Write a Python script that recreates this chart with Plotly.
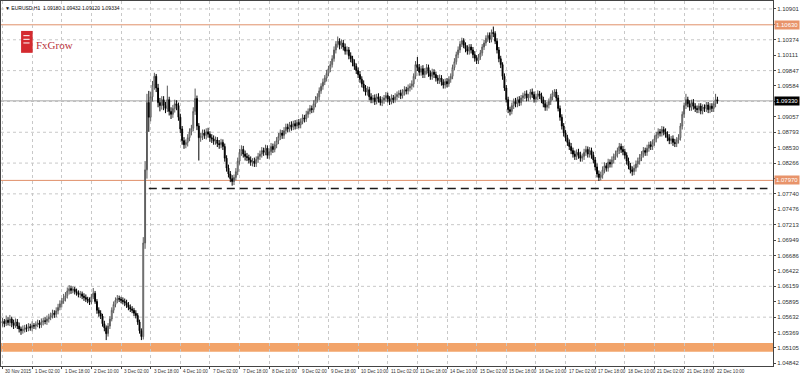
import plotly.graph_objects as go

# ---- data (prices in pips above 1.0000, EURUSD H1) ----
close_pips = [
    556,552,558,554,560,553,549,555,
    548,543,540,542,545,
    544,547,545,549,548,
    551,553,550,555,557,556,560,
    563,566,570,568,574,
    580,586,591,596,600,
    608,612,609,611,
    607,605,602,603,599,597,594,592,589,
    598,604,590,575,570,565,
    552,545,535,548,560,
    575,585,592,595,594,592,590,588,
    584,580,577,575,570,566,
    555,540,530,
    690,815,930,905,
    940,960,975,955,930,925,935,
    925,920,935,915,910,920,928,925,
    905,885,865,858,862,
    870,880,886,915,937,890,870,
    872,878,874,880,876,870,868,
    864,866,860,858,862,855,
    835,818,808,800,795,802,812,
    830,845,850,842,838,
    836,832,828,830,826,833,838,
    842,848,845,852,840,846,855,850,858,
    865,872,878,874,882,888,
    885,892,888,894,890,896,892,
    898,904,902,910,915,920,918,928,935,940,
    950,958,965,972,980,988,995,1005,
    1020,1030,1035,1028,1032,
    1025,1018,1020,1010,1005,998,992,985,
    978,970,962,955,948,952,940,935,
    938,932,940,936,930,934,938,942,936,932,938,935,940,944,
    946,942,948,952,950,955,958,962,
    975,995,990,
    982,988,978,984,990,980,975,982,978,972,
    968,972,965,960,966,962,970,975,
    990,1000,1012,1020,1030,1036,
    1028,1022,1018,1025,1020,
    1012,1006,1002,1008,1015,
    1025,1032,1040,1045,1038,1050,1048,
    1035,1020,1005,995,975,955,935,918,915,
    925,932,928,935,930,938,
    942,945,938,940,948,944,936,940,945,942,
    935,928,922,926,932,940,946,948,938,
    920,905,890,878,870,862,
    855,848,842,838,845,840,835,838,845,850,842,848,840,832,
    820,808,802,806,
    815,822,818,828,825,832,838,842,848,855,850,846,840,
    830,822,815,812,818,825,830,
    836,842,848,845,852,858,855,862,
    868,875,880,878,884,880,876,
    870,865,868,862,860,866,870,
    890,910,925,935,928,922,930,924,920,
    918,924,916,922,920,926,918,924,920,928,935,933,
]
open_pips = [
    553,556,552,558,554,560,553,549,
    555,548,543,540,542,
    545,544,547,545,549,
    548,551,553,550,555,557,556,
    560,563,566,570,568,
    574,580,586,591,596,
    600,608,612,609,
    611,607,605,602,603,599,597,594,592,
    589,598,604,590,575,570,
    565,552,545,535,548,
    560,575,585,592,595,594,592,590,
    588,584,580,577,575,570,
    566,555,540,
    530,690,815,930,
    905,940,960,975,955,930,925,
    935,925,920,935,915,910,920,928,
    925,905,885,865,858,
    862,870,880,886,915,937,890,
    870,872,878,874,880,876,870,
    868,864,866,860,858,862,
    855,835,818,808,800,795,802,
    812,830,845,850,842,
    838,836,832,828,830,826,833,
    838,842,848,845,852,840,846,855,850,
    858,865,872,878,874,882,
    888,885,892,888,894,890,896,
    892,898,904,902,910,915,920,918,928,935,
    940,950,958,965,972,980,988,995,
    1005,1020,1030,1035,1028,
    1032,1025,1018,1020,1010,1005,998,992,
    985,978,970,962,955,948,952,940,
    935,938,932,940,936,930,934,938,942,936,932,938,935,940,
    944,946,942,948,952,950,955,958,
    962,975,995,
    990,982,988,978,984,990,980,975,982,978,
    972,968,972,965,960,966,962,970,
    975,990,1000,1012,1020,1030,
    1036,1028,1022,1018,1025,
    1020,1012,1006,1002,1008,
    1015,1025,1032,1040,1045,1038,1050,
    1048,1035,1020,1005,995,975,955,935,918,
    915,925,932,928,935,930,
    938,942,945,938,940,948,944,936,940,945,
    942,935,928,922,926,932,940,946,948,
    938,920,905,890,878,870,
    862,855,848,842,838,845,840,835,838,845,850,842,848,840,
    832,820,808,802,
    806,815,822,818,828,825,832,838,842,848,855,850,846,
    840,830,822,815,812,818,825,
    830,836,842,848,845,852,858,855,
    862,868,875,880,878,884,880,
    876,870,865,868,862,860,866,
    870,890,910,925,935,928,922,930,924,
    920,918,924,916,922,920,926,918,924,920,928,935,
]
high_pips = [
    562,560,566,563,567,564,559,561,
    560,554,547,549,550,
    551,553,552,556,553,
    556,559,558,561,562,563,566,
    569,571,576,575,580,
    586,592,596,603,606,
    614,618,617,616,
    615,612,609,608,607,604,602,598,597,
    603,613,608,594,580,575,
    569,557,549,553,565,
    580,590,597,601,600,598,597,595,
    593,589,585,582,579,575,
    570,559,544,
    700,830,945,950,
    948,967,981,979,962,938,941,
    941,931,959,940,922,926,935,934,
    930,911,890,871,867,
    876,886,892,922,954,942,895,
    878,884,884,886,887,881,876,
    874,872,871,866,868,867,
    860,840,824,813,806,807,818,
    836,851,857,856,848,
    844,841,838,835,836,838,844,
    848,854,853,858,857,852,861,860,864,
    871,878,884,883,888,894,
    894,897,898,899,900,901,902,
    903,910,909,916,920,926,925,934,941,946,
    956,963,971,977,986,993,1001,1011,
    1026,1035,1043,1040,1038,
    1037,1031,1026,1025,1016,1010,1004,997,
    990,984,975,968,960,958,957,946,
    943,944,945,946,941,940,943,948,947,941,944,943,946,949,
    951,952,953,958,957,961,963,968,
    980,1001,1008,
    996,993,994,989,996,995,985,988,987,983,
    977,978,977,970,971,972,975,980,
    995,1006,1017,1026,1035,1041,
    1040,1033,1028,1030,1030,
    1025,1018,1011,1013,1020,
    1030,1037,1045,1050,1050,1055,1060,
    1052,1040,1025,1010,999,980,960,940,923,
    930,937,938,940,941,943,
    947,950,951,945,953,954,949,945,951,950,
    947,940,934,931,937,945,951,953,953,
    943,925,910,895,883,875,
    867,861,853,848,850,851,846,843,851,856,855,854,853,846,
    837,826,814,812,
    821,828,827,834,833,838,843,848,853,861,860,856,851,
    845,836,827,821,824,831,836,
    842,847,854,853,858,863,864,867,
    874,880,886,885,890,889,886,
    881,876,873,874,868,871,876,
    895,915,930,945,940,934,935,936,929,
    925,929,929,927,927,931,931,929,929,933,945,940,
]
low_pips = [
    547,546,548,549,548,546,543,545,
    543,537,533,535,537,
    538,539,540,539,543,
    542,546,544,545,549,551,550,
    554,558,561,562,563,
    568,575,580,586,590,
    595,602,603,604,
    602,600,597,596,594,591,589,587,584,
    585,594,586,569,564,560,
    547,539,524,530,543,
    556,570,580,587,589,587,585,582,
    579,575,572,570,565,561,
    550,535,524,
    525,680,800,880,
    898,932,952,948,922,915,918,
    917,912,914,908,902,904,913,917,
    899,878,858,851,852,
    855,864,874,881,909,883,831,
    863,866,868,867,870,863,861,
    858,858,854,851,852,849,
    829,812,802,794,788,789,797,
    806,824,839,836,831,
    830,826,822,821,820,820,827,
    832,836,839,840,834,834,840,844,845,
    852,859,866,868,868,876,
    879,880,882,883,884,885,886,
    886,893,896,897,904,910,912,913,922,930,
    934,945,952,960,966,975,982,990,
    1000,1014,1024,1021,1022,
    1019,1012,1012,1004,999,992,986,979,
    972,964,956,949,942,942,934,929,
    929,926,927,930,925,924,928,932,930,926,927,929,930,934,
    938,936,937,942,944,944,949,952,
    956,970,984,
    976,976,972,972,978,974,969,969,972,966,
    962,962,959,954,954,956,957,964,
    970,985,995,1006,1015,1025,
    1023,1016,1012,1012,1014,
    1006,1000,996,996,1003,
    1010,1020,1027,1034,1032,1033,1042,
    1030,1014,999,989,969,950,930,912,908,
    910,919,922,922,924,925,
    932,936,932,932,935,938,930,930,934,936,
    929,922,916,916,920,926,934,940,932,
    915,899,884,872,864,856,
    849,842,836,832,832,834,829,829,832,839,836,836,834,826,
    814,802,796,797,
    800,809,812,812,819,819,826,832,836,842,844,840,834,
    824,816,809,805,806,812,819,
    824,830,836,839,839,846,849,849,
    856,862,869,872,872,874,870,
    864,859,859,856,854,854,860,
    865,884,904,919,922,916,916,918,914,
    912,912,910,910,914,914,912,912,914,914,922,928,
]

time_labels = [
    "30 Nov 2015", "1 Dec 02:00", "1 Dec 18:00", "2 Dec 10:00", "3 Dec 02:00",
    "3 Dec 18:00", "4 Dec 10:00", "7 Dec 02:00", "7 Dec 18:00", "8 Dec 10:00",
    "9 Dec 02:00", "9 Dec 18:00", "10 Dec 10:00", "11 Dec 02:00", "11 Dec 18:00",
    "14 Dec 10:00", "15 Dec 02:00", "15 Dec 18:00", "16 Dec 10:00", "17 Dec 02:00",
    "17 Dec 18:00", "18 Dec 10:00", "21 Dec 02:00", "21 Dec 18:00", "22 Dec 10:00",
]
bars_per_label = 16

price_labels = [
    1.10901, 1.10638, 1.10374, 1.10111, 1.09847, 1.09584, 1.09320, 1.09057,
    1.08793, 1.08530, 1.08266, 1.08003, 1.07740, 1.07476, 1.07213, 1.06949,
    1.06686, 1.06422, 1.06159, 1.05895, 1.05632, 1.05369, 1.05105, 1.04842,
]

resistance_level = 1.10630
support_level = 1.07970
dashed_level = 1.07830
zone_low = 1.05040
zone_high = 1.05190
last_price = 1.09330
header_text = "\u25BC EURUSD,H1  1.09180 1.09432 1.09120 1.09334"

# ---- build ----
n = min(len(close_pips), len(open_pips), len(high_pips), len(low_pips))
to_price = lambda arr: [1 + v / 10000 for v in arr[:n]]
bars = list(range(n))
tick_bars = [k * bars_per_label for k in range(len(time_labels))]

fig = go.Figure(go.Candlestick(
    x=bars,
    open=to_price(open_pips), high=to_price(high_pips),
    low=to_price(low_pips), close=to_price(close_pips),
    increasing=dict(line=dict(color="#5a5a5a", width=1), fillcolor="#ffffff"),
    decreasing=dict(line=dict(color="#000000", width=1), fillcolor="#000000"),
    whiskerwidth=0, showlegend=False, hoverinfo="skip",
))

FONT = "Liberation Sans, Arial, sans-serif"
NARROW = "Liberation Sans Narrow, Liberation Sans, Arial, sans-serif"
grid_col = "#c8c8c8"
box_levels = (resistance_level, support_level, last_price)

shapes = []
for i, v in enumerate(price_labels):
    if i % 2 == 0:
        shapes.append(dict(type="line", xref="paper", yref="y", x0=0, x1=1, y0=v, y1=v,
                           line=dict(color=grid_col, width=1, dash="dot"), layer="below"))
shapes.append(dict(type="rect", xref="paper", yref="y", x0=0, x1=1, y0=zone_low, y1=zone_high,
                   fillcolor="#f2a46a", line=dict(width=0), layer="below"))
for lvl in (resistance_level, support_level):
    shapes.append(dict(type="line", xref="paper", yref="y", x0=0, x1=1, y0=lvl, y1=lvl,
                       line=dict(color="#e0906a", width=1), layer="below"))
shapes.append(dict(type="line", xref="paper", yref="y", x0=0, x1=1, y0=last_price, y1=last_price,
                   line=dict(color="#a8a8a8", width=1), layer="below"))
dashed_start_bar = 79
dashed_end_bar = 413
shapes.append(dict(type="line", xref="x", yref="y", x0=dashed_start_bar, x1=dashed_end_bar,
                   y0=dashed_level, y1=dashed_level,
                   line=dict(color="#1a1a1a", width=1.5, dash="8px,5px")))
shapes.append(dict(type="rect", xref="paper", yref="paper", x0=0.026, x1=0.041, y0=0.858, y1=0.918,
                   fillcolor="#d42a2f", line=dict(width=0)))
for yy in (0.905, 0.895, 0.885):
    shapes.append(dict(type="line", xref="paper", yref="paper", x0=0.029, x1=0.037, y0=yy, y1=yy,
                       line=dict(color="#ffffff", width=1)))

annotations = []
for tb, txt in zip(tick_bars, time_labels):
    annotations.append(dict(x=tb, y=0, xref="x", yref="paper", text=txt, showarrow=False,
                            xanchor="left", yanchor="top", yshift=-1, xshift=1,
                            font=dict(family=NARROW, size=4.6, color="#333333")))
for lvl, bg in ((resistance_level, "#e8936a"), (support_level, "#e8936a"), (last_price, "#000000")):
    annotations.append(dict(x=1, y=lvl, xref="paper", yref="y", text=f"{lvl:.5f}", showarrow=False,
                            xanchor="left", yanchor="middle", bgcolor=bg, borderpad=1, xshift=1,
                            font=dict(family=FONT, size=6, color="#ffffff")))
annotations.append(dict(x=0.003, y=1, xref="paper", yref="paper", text=header_text, showarrow=False,
                        xanchor="left", yanchor="top", yshift=-2,
                        font=dict(family=FONT, size=5, color="#111111")))
annotations.append(dict(x=0.043, y=0.88, xref="paper", yref="paper", text="FxGrow", showarrow=False,
                        xanchor="left", yanchor="middle",
                        font=dict(family="Liberation Serif, serif", size=11, color="#b9323a")))

# hide axis labels that sit under the coloured price boxes
tick_text = ["" if any(abs(v - b) < 0.0009 for b in box_levels) else f"{v:.5f}" for v in price_labels]

fig.update_layout(
    width=800, height=376,
    margin=dict(l=0, r=20, t=0, b=10, pad=0),
    paper_bgcolor="#ffffff", plot_bgcolor="#ffffff",
    shapes=shapes, annotations=annotations,
    xaxis=dict(range=[-0.8, 416], rangeslider=dict(visible=False),
               tickvals=tick_bars, showticklabels=False, ticks="outside", ticklen=2,
               tickcolor="#444444", showgrid=True, gridcolor=grid_col, griddash="dot", gridwidth=1,
               showline=True, linecolor="#444444", linewidth=1, mirror=True, zeroline=False,
               fixedrange=True),
    yaxis=dict(range=[1.04797, 1.11037], side="right",
               tickvals=price_labels, ticktext=tick_text,
               ticks="outside", ticklen=2, tickcolor="#444444",
               tickfont=dict(family=FONT, size=6, color="#333333"),
               showgrid=False, showline=True, linecolor="#444444", linewidth=1, mirror=True,
               zeroline=False, fixedrange=True),
    font=dict(family=FONT),
)

fig.write_html("out.html")
